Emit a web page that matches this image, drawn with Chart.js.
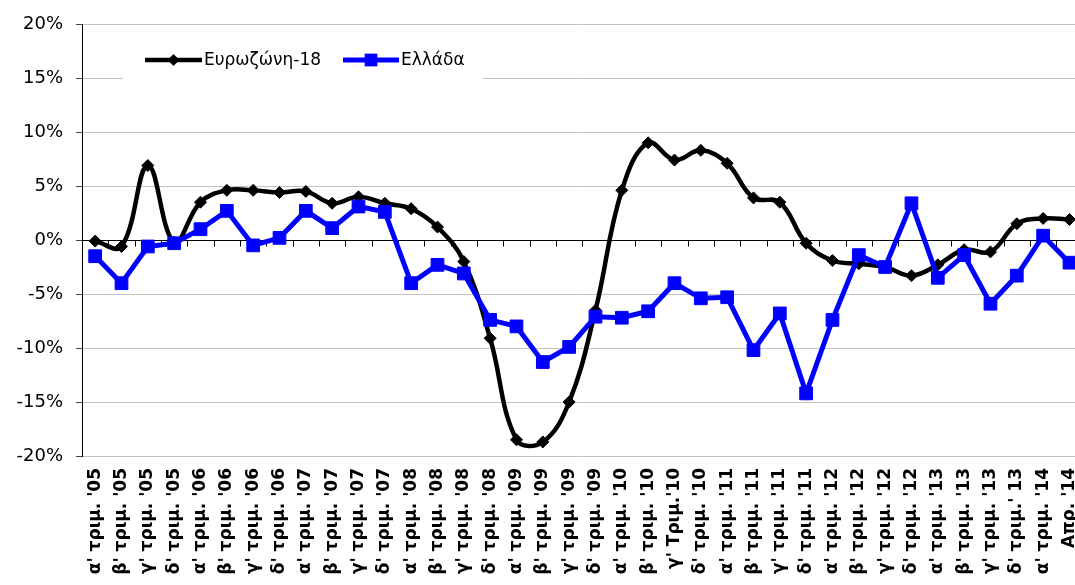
<!DOCTYPE html>
<html>
<head>
<meta charset="utf-8">
<script src="https://cdn.jsdelivr.net/npm/chart.js@4.4.1/dist/chart.umd.min.js"></script>
<style>
html,body{margin:0;padding:0;background:#fff;overflow:hidden;}
#wrap{width:1102px;height:585px;}
</style>
</head>
<body>
<div id="wrap"><canvas id="lineChart" width="1102" height="585"></canvas></div>
<script>
// quarters 2005 - April 2014
const categories = [
    "α' τριμ. '05","β' τριμ. '05","γ' τριμ. '05","δ' τριμ. '05",
    "α' τριμ. '06","β' τριμ. '06","γ' τριμ. '06","δ' τριμ. '06",
    "α' τριμ. '07","β' τριμ. '07","γ' τριμ. '07","δ' τριμ. '07",
    "α' τριμ. '08","β' τριμ. '08","γ' τριμ. '08","δ' τριμ. '08",
    "α' τριμ. '09","β' τριμ. '09","γ' τριμ. '09","δ' τριμ. '09",
    "α' τριμ. '10","β' τριμ. '10","γ' Τριμ.'10","δ' τριμ. '10",
    "α' τριμ. '11","β' τριμ. '11","γ' τριμ. '11","δ' τριμ. '11",
    "α' τριμ. '12","β' τριμ. '12","γ' τριμ. '12","δ' τριμ. '12",
    "α' τριμ. '13","β' τριμ. '13","γ' τριμ. '13","δ' τριμ.' 13",
    "α' τριμ. '14","Απρ. '14"
];

const eurozone = [
    -0.1,-0.6,6.9,-0.2, 3.5,4.6,4.6,4.4, 4.5,3.4,4.0,3.4,
    2.9,1.2,-2.0,-9.1, -18.5,-18.7,-15.0,-6.5, 4.6,9.0,7.4,8.3,
    7.1,3.9,3.5,-0.3, -1.9,-2.2,-2.5,-3.3, -2.3,-0.9,-1.1,1.5,
    2.0,1.9
];

const greece = [
    -1.5,-4.0,-0.6,-0.3, 1.0,2.7,-0.5,0.2, 2.7,1.1,3.1,2.6,
    -4.0,-2.3,-3.1,-7.4, -8.0,-11.3,-9.9,-7.1, -7.2,-6.6,-4.0,-5.4,
    -5.3,-10.2,-6.8,-14.2, -7.4,-1.4,-2.5,3.4, -3.5,-1.4,-5.9,-3.3,
    0.4,-2.1
];

const seriesNames = ['Ευρωζώνη-18','Ελλάδα'];
const yMin = -20, yMax = 20, yStep = 5;

// small tick marks on the zero line, between categories
const zeroTicks = {
    id:'zeroTicks',
    beforeDatasetsDraw(chart){
        const ctx = chart.ctx, x = chart.scales.x, y = chart.scales.y;
        const y0 = Math.round(y.getPixelForValue(0)) + 0.5;
        ctx.save();
        ctx.strokeStyle = '#000';
        ctx.lineWidth = 1;
        ctx.beginPath();
        for(let i=0;i<categories.length;i++){
            const px = Math.round(x.getPixelForValue(i-0.5)) + 0.5;
            ctx.moveTo(px,y0);
            ctx.lineTo(px,y0+6);
        }
        ctx.stroke();
        ctx.restore();
    }
};

// legend inside the plot area
const innerLegend = {
    id:'innerLegend',
    afterDraw(chart){
        const ctx = chart.ctx;
        ctx.save();
        ctx.fillStyle = '#fff';
        ctx.fillRect(123,38,360,44);
        ctx.font = '17px "DejaVu Sans", Verdana, sans-serif';
        ctx.textBaseline = 'middle';
        const items = [{x:145,w:57},{x:343,w:56}];
        chart.data.datasets.forEach((ds,i)=>{
            const it = items[i], cy = 60;
            ctx.strokeStyle = ds.borderColor;
            ctx.lineWidth = ds.borderWidth;
            ctx.beginPath();
            ctx.moveTo(it.x,cy);
            ctx.lineTo(it.x+it.w,cy);
            ctx.stroke();
            const mx = it.x+it.w/2;
            ctx.fillStyle = ds.pointBackgroundColor;
            ctx.beginPath();
            if(ds.pointStyle==='rectRot'){
                const r = ds.pointRadius;
                ctx.moveTo(mx,cy-r); ctx.lineTo(mx+r,cy); ctx.lineTo(mx,cy+r); ctx.lineTo(mx-r,cy);
                ctx.closePath();
            } else {
                const s = ds.pointRadius*Math.SQRT1_2;
                ctx.rect(mx-s,cy-s,2*s,2*s);
            }
            ctx.fill();
            ctx.fillStyle = '#000';
            ctx.fillText(ds.label,it.x+it.w+2,cy+1);
        });
        ctx.restore();
    }
};

const lineChart = new Chart(
    document.getElementById('lineChart'),
    {
        type:'line',
        data:{
            labels:categories,
            datasets:[{
                label:seriesNames[0],
                data:eurozone,
                borderColor:'#000000',
                backgroundColor:'#000000',
                pointBackgroundColor:'#000000',
                pointBorderColor:'#000000',
                borderWidth:4.5,
                pointStyle:'rectRot',
                pointRadius:6,
                pointBorderWidth:1,
                tension:0.4,
                order:1
            },{
                label:seriesNames[1],
                data:greece,
                borderColor:'#0000ff',
                backgroundColor:'#0000ff',
                pointBackgroundColor:'#0000ff',
                pointBorderColor:'#0000ff',
                borderWidth:5,
                pointStyle:'rect',
                pointRadius:9,
                pointBorderWidth:1,
                tension:0,
                order:0
            }]
        },
        options:{
            responsive:false,
            animation:false,
            layout:{padding:{top:24,right:8,left:0,bottom:0}},
            plugins:{legend:{display:false},tooltip:{enabled:false}},
            scales:{
                x:{
                    offset:true,
                    grid:{display:false,drawTicks:false},
                    border:{display:false},
                    ticks:{
                        autoSkip:false,maxRotation:90,minRotation:90,padding:12,
                        color:'#000',
                        font:{family:'"DejaVu Sans", Verdana, sans-serif',size:17,weight:'bold'}
                    },
                    afterFit(s){ s.height = 129; }
                },
                y:{
                    min:yMin,max:yMax,
                    grid:{
                        color:(c)=>c.tick && c.tick.value===0 ? '#000000' : '#c4c4c4',
                        tickColor:'#444',
                        tickLength:6,
                        lineWidth:1
                    },
                    border:{display:true,color:'#000',width:1},
                    ticks:{
                        stepSize:yStep,padding:13,color:'#000',
                        font:{family:'"DejaVu Sans", Verdana, sans-serif',size:18},
                        callback:(v)=>v+'%'
                    },
                    afterFit(s){ s.width = 82; }
                }
            }
        },
        plugins:[zeroTicks,innerLegend]
    }
);
</script>
</body>
</html>
